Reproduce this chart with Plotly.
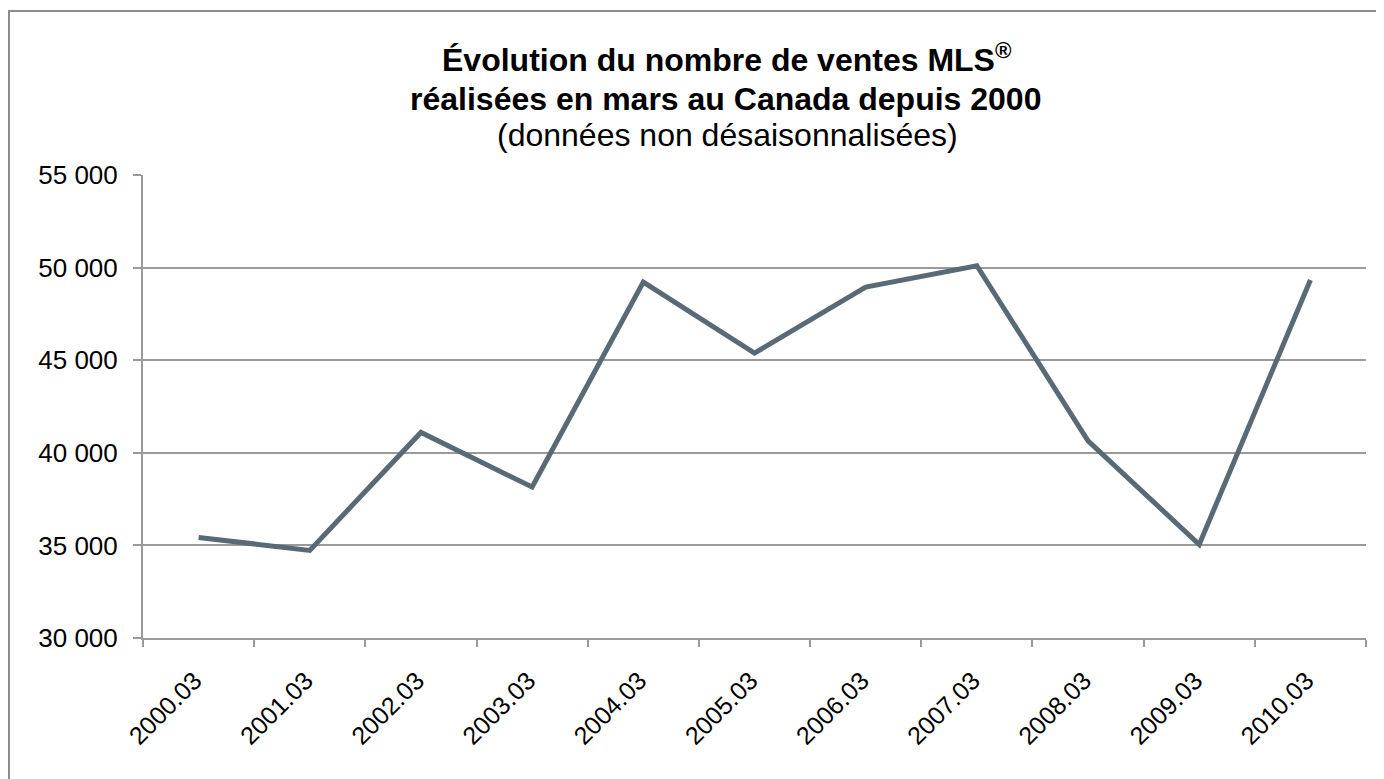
import plotly.graph_objects as go

categories = ["2000.03", "2001.03", "2002.03", "2003.03", "2004.03", "2005.03",
              "2006.03", "2007.03", "2008.03", "2009.03", "2010.03"]
sales = [35430, 34730, 41100, 38150, 49220, 45380, 48950, 50100, 40640, 35050, 49330]

title_line1 = "Évolution du nombre de ventes MLS<sup>®</sup>"
title_line2 = "réalisées en mars au Canada depuis 2000"
title_line3 = "(données non désaisonnalisées)"

FONT = "Liberation Sans, Arial, sans-serif"
GRID = "#9a9a9a"

fig = go.Figure()
fig.add_trace(go.Scatter(
    x=categories, y=sales, mode="lines",
    line=dict(color="#596a77", width=5),
    showlegend=False, hoverinfo="x+y",
))

# page has an 8px body margin; figure placed at (8, 8) on screen
OFF = 8
W, H = 1376, 771
L, R, T, B = 143 - OFF, 18, 175 - OFF, 141
pw, ph = W - L - R, H - T - B

def px_x(x):  # screen px -> paper
    return (x - OFF - L) / pw

def px_y(y):
    return (T + ph - (y - OFF)) / ph

fig.update_layout(
    width=W, height=H,
    margin=dict(l=L, r=R, t=T, b=B),
    paper_bgcolor="white", plot_bgcolor="white",
    separators=", ",
    font=dict(family=FONT, color="black", size=20),
    xaxis=dict(
        type="category", range=[-0.5, 10.5],
        tickson="boundaries", ticks="outside", ticklen=7, tickcolor=GRID, tickwidth=2,
        showline=True, linecolor=GRID, linewidth=2,
        showgrid=False, tickangle=-45,
        ticklabelstandoff=16, ticklabelshift=-4,
        tickfont=dict(family=FONT, size=25, color="black"),
    ),
    yaxis=dict(
        range=[30000, 55000], dtick=5000, tick0=30000,
        tickformat=",d",
        ticks="outside", ticklen=8, tickcolor=GRID, tickwidth=2,
        showline=True, linecolor=GRID, linewidth=2,
        showgrid=True, gridcolor=GRID, gridwidth=2,
        zeroline=False,
        ticklabelstandoff=10,
        tickfont=dict(family=FONT, size=26, color="black"),
    ),
    shapes=[dict(
        type="rect", xref="paper", yref="paper",
        x0=px_x(9), x1=px_x(1400), y0=px_y(800), y1=px_y(11),
        line=dict(color="#8c8c8c", width=2), fillcolor="rgba(0,0,0,0)",
        layer="below",
    )],
    annotations=[
        dict(text="<b>" + title_line1 + "</b>", xref="paper", yref="paper",
             x=px_x(727), y=px_y(58), xanchor="center", yanchor="middle",
             showarrow=False, font=dict(family=FONT, size=32, color="black")),
        dict(text="<b>" + title_line2 + "</b>", xref="paper", yref="paper",
             x=px_x(725), y=px_y(99), xanchor="center", yanchor="middle",
             showarrow=False, font=dict(family=FONT, size=32, color="black")),
        dict(text=title_line3, xref="paper", yref="paper",
             x=px_x(727), y=px_y(135), xanchor="center", yanchor="middle",
             showarrow=False, font=dict(family=FONT, size=32, color="black")),
    ],
)

fig.write_html("out.html")
